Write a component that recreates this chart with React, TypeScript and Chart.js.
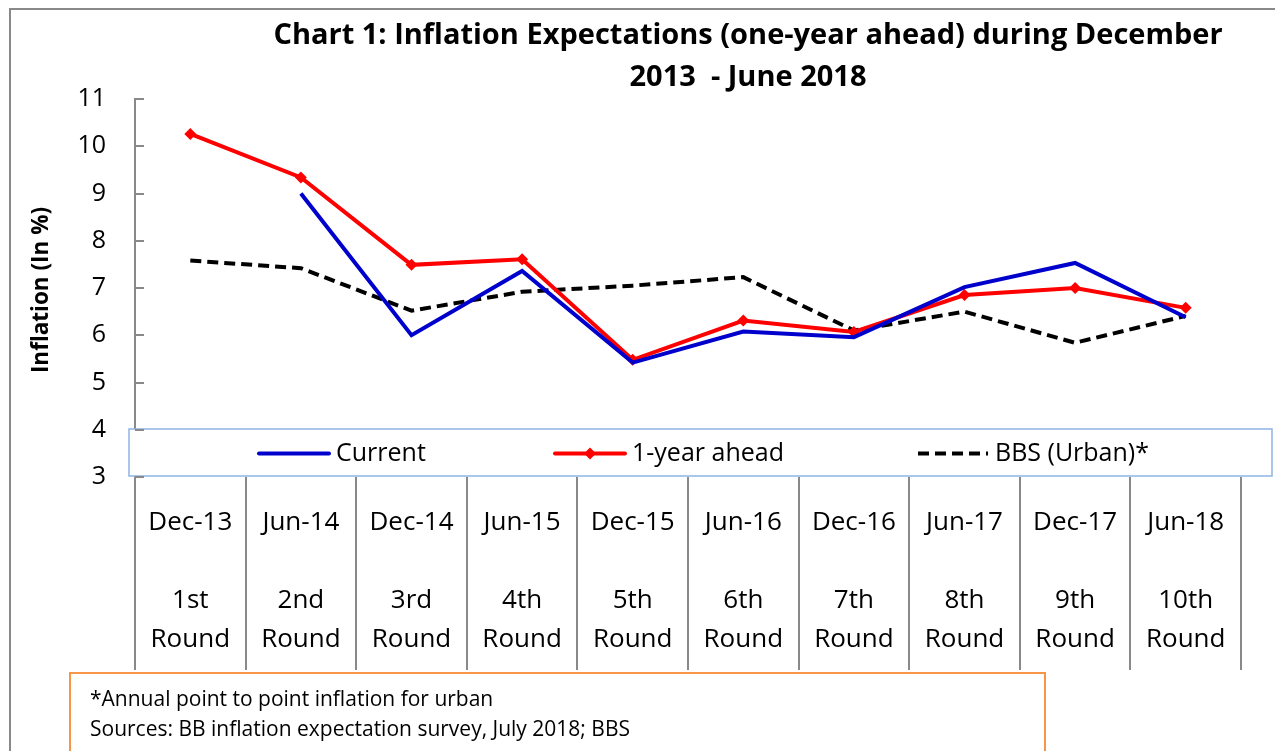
import { useEffect, useRef } from "react";
import { Chart, registerables } from "chart.js";
Chart.register(...registerables);

const dates = ["Dec-13", "Jun-14", "Dec-14", "Jun-15", "Dec-15", "Jun-16", "Dec-16", "Jun-17", "Dec-17", "Jun-18"];
const rounds = ["1st", "2nd", "3rd", "4th", "5th", "6th", "7th", "8th", "9th", "10th"];
const currentValues = [null, 9.0, 6.0, 7.36, 5.42, 6.08, 5.96, 7.02, 7.53, 6.38];
const aheadValues = [10.26, 9.34, 7.49, 7.61, 5.48, 6.31, 6.07, 6.85, 7.0, 6.58];
const bbsValues = [7.58, 7.42, 6.52, 6.92, 7.05, 7.23, 6.1, 6.5, 5.84, 6.41];
const seriesNames = ["Current", "1-year ahead", "BBS (Urban)*"];
const yMin = 3;
const yMax = 11;
const titleLines = ["Chart 1: Inflation Expectations (one-year ahead) during December", "2013  - June 2018"];
const yTitle = "Inflation (In %)";
const footnotes = ["*Annual point to point inflation for urban", "Sources: BB inflation expectation survey, July 2018; BBS"];

const FONT = "'Open Sans', sans-serif";
const AXIS_GRAY = "#898989";

const decorPlugin = {
  id: "decor",
  beforeDraw(chart: any) {
    const ctx = chart.ctx;
    ctx.save();
    ctx.fillStyle = "#fff";
    ctx.fillRect(0, 0, chart.width, chart.height);
    ctx.strokeStyle = AXIS_GRAY;
    ctx.lineWidth = 2;
    ctx.strokeRect(10, 9, chart.width + 20, chart.height + 20);
    ctx.restore();
  },
  afterDraw(chart: any) {
    const ctx = chart.ctx;
    const xs = chart.scales.x;
    const ys = chart.scales.y;
    const area = chart.chartArea;
    ctx.save();

    // legend box
    const lx0 = 129, lx1 = 1272, ly0 = 429, ly1 = 476;
    ctx.fillStyle = "#fff";
    ctx.fillRect(lx0, ly0, lx1 - lx0, ly1 - ly0);
    ctx.strokeStyle = "#8EB4E3";
    ctx.lineWidth = 1.5;
    ctx.strokeRect(lx0, ly0, lx1 - lx0, ly1 - ly0);

    // y inside ticks
    ctx.strokeStyle = AXIS_GRAY;
    ctx.lineWidth = 2;
    for (let v = yMin; v <= yMax; v++) {
      const y = Math.round(ys.getPixelForValue(v));
      ctx.beginPath();
      ctx.moveTo(area.left, y);
      ctx.lineTo(area.left + 9, y);
      ctx.stroke();
    }

    // category separator lines below axis
    for (let i = 0; i <= dates.length; i++) {
      const x = Math.round(xs.getPixelForValue(i - 0.5));
      ctx.beginPath();
      ctx.moveTo(x, area.bottom);
      ctx.lineTo(x, 670);
      ctx.stroke();
    }

    // legend entries
    const ly = (ly0 + ly1) / 2 + 1;
    const entryX = [259, 555, 918];
    chart.data.datasets.forEach((ds: any, i: number) => {
      const x = entryX[i];
      ctx.strokeStyle = ds.borderColor;
      ctx.lineWidth = 4;
      ctx.setLineDash(ds.borderDash || []);
      ctx.lineCap = ds.borderDash ? "butt" : "round";
      ctx.beginPath();
      ctx.moveTo(x, ly);
      ctx.lineTo(x + 70, ly);
      ctx.stroke();
      ctx.setLineDash([]);
      if (ds.pointRadius > 0) {
        ctx.fillStyle = ds.borderColor;
        const r = 6;
        ctx.beginPath();
        ctx.moveTo(x + 35, ly - r);
        ctx.lineTo(x + 35 + r, ly);
        ctx.lineTo(x + 35, ly + r);
        ctx.lineTo(x + 35 - r, ly);
        ctx.closePath();
        ctx.fill();
      }
      ctx.fillStyle = "#000";
      ctx.font = `25px ${FONT}`;
      ctx.textBaseline = "middle";
      ctx.textAlign = "left";
      ctx.fillText(ds.label, x + 77, ly);
    });

    // title
    ctx.fillStyle = "#000";
    ctx.font = `bold 29px ${FONT}`;
    ctx.textAlign = "center";
    ctx.textBaseline = "middle";
    ctx.fillText(titleLines[0], 748, 36);
    ctx.fillText(titleLines[1], 748, 78);

    // y title
    ctx.save();
    ctx.translate(42, 290);
    ctx.rotate(-Math.PI / 2);
    ctx.font = `bold 22.5px ${FONT}`;
    ctx.fillText(yTitle, 0, 0);
    ctx.restore();

    // footnote box
    ctx.strokeStyle = "#F79646";
    ctx.lineWidth = 2;
    ctx.strokeRect(70, 673, 975, 200);
    ctx.fillStyle = "#000";
    ctx.font = `21px ${FONT}`;
    ctx.textAlign = "left";
    ctx.fillText(footnotes[0], 90, 700);
    ctx.fillText(footnotes[1], 90, 730);

    ctx.restore();
  },
};

export default function App() {
  const ref = useRef<HTMLCanvasElement | null>(null);
  useEffect(() => {
    if (!ref.current) return;
    const chart = new Chart(ref.current, {
      type: "line",
      data: {
        labels: dates.map((d, i) => [d, "", rounds[i], "Round"]),
        datasets: [
          {
            label: seriesNames[0],
            data: currentValues,
            borderColor: "#0000CC",
            backgroundColor: "#0000CC",
            borderWidth: 4,
            pointRadius: 0,
            tension: 0,
            spanGaps: false,
          },
          {
            label: seriesNames[1],
            data: aheadValues,
            borderColor: "#FF0000",
            backgroundColor: "#FF0000",
            borderWidth: 4,
            pointRadius: 6,
            pointStyle: "rectRot",
            pointBorderWidth: 0,
            tension: 0,
          },
          {
            label: seriesNames[2],
            data: bbsValues,
            borderColor: "#000000",
            backgroundColor: "#000000",
            borderWidth: 4,
            borderDash: [11, 6],
            pointRadius: 0,
            tension: 0,
          },
        ] as any,
      },
      options: {
        animation: false,
        responsive: false,
        events: [],
        layout: { padding: { top: 99, left: 0, right: 34, bottom: 74 } },
        plugins: { legend: { display: false }, title: { display: false }, tooltip: { enabled: false } },
        scales: {
          x: {
            offset: true,
            grid: { display: false, drawTicks: false, offset: true },
            border: { display: false },
            ticks: {
              color: "#000",
              font: { family: FONT, size: 26, lineHeight: "39px" } as any,
              padding: 26.5,
              maxRotation: 0,
              autoSkip: false,
            },
            afterFit: (s: any) => {
              s.height = 200;
            },
          },
          y: {
            min: yMin,
            max: yMax,
            grid: { display: false, drawTicks: false },
            border: { display: true, color: AXIS_GRAY, width: 2 },
            ticks: {
              stepSize: 1,
              color: "#000",
              font: { family: FONT, size: 25 },
              padding: 29,
            },
            afterFit: (s: any) => {
              s.width = 135;
            },
          },
        },
      },
      plugins: [decorPlugin],
    });
    return () => chart.destroy();
  }, []);
  return (
    <div style={{ position: "absolute", left: 0, top: 0, width: 1275, height: 751 }}>
      <canvas ref={ref} width={1275} height={751} style={{ width: 1275, height: 751 }} />
    </div>
  );
}
